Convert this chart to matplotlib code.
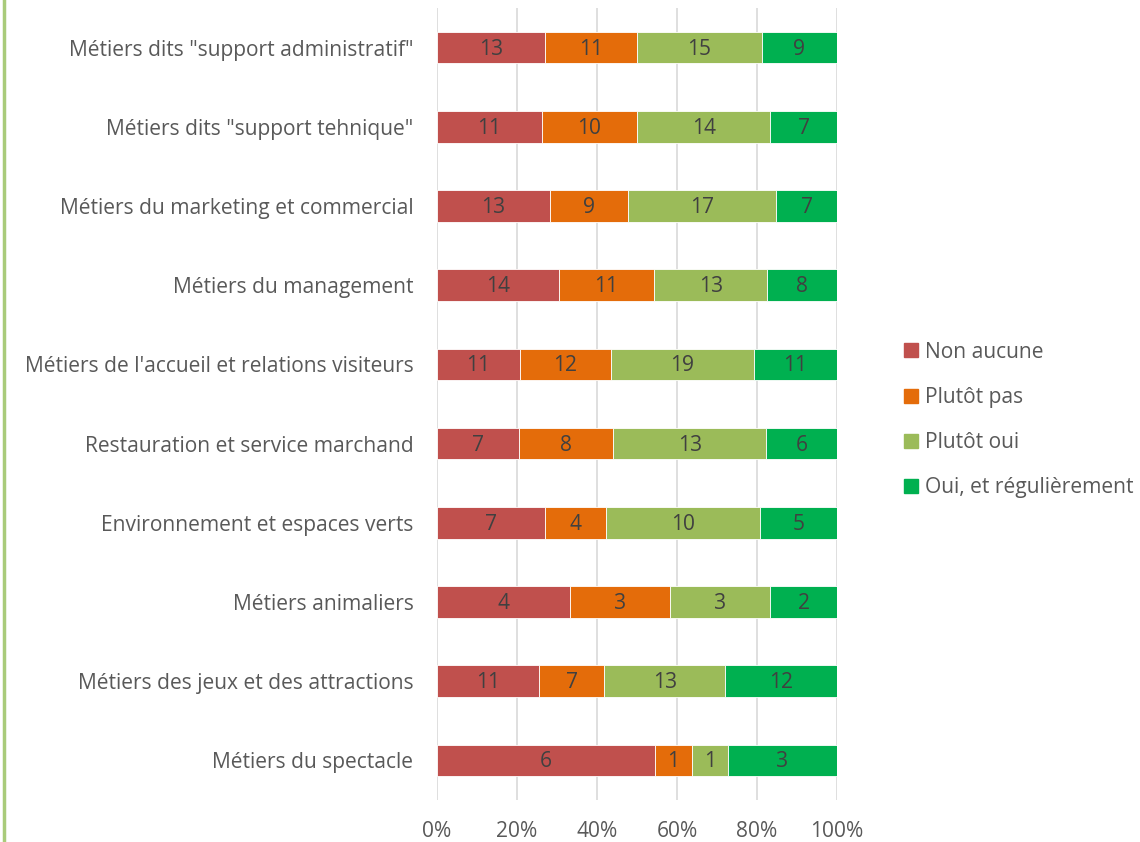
import numpy as np
import matplotlib
matplotlib.use('Agg')
import matplotlib.pyplot as plt
from matplotlib.lines import Line2D

categories = [
    'Métiers dits "support administratif"',
    'Métiers dits "support tehnique"',
    'Métiers du marketing et commercial',
    'Métiers du management',
    "Métiers de l'accueil et relations visiteurs",
    'Restauration et service marchand',
    'Environnement et espaces verts',
    'Métiers animaliers',
    'Métiers des jeux et des attractions',
    'Métiers du spectacle',
]
series_names = ['Non aucune', 'Plutôt pas', 'Plutôt oui', 'Oui, et régulièrement']
non_aucune = [13, 11, 13, 14, 11, 7, 7, 4, 11, 6]
plutot_pas = [11, 10, 9, 11, 12, 8, 4, 3, 7, 1]
plutot_oui = [15, 14, 17, 13, 19, 13, 10, 3, 13, 1]
oui_regul = [9, 7, 7, 8, 11, 6, 5, 2, 12, 3]
colors = ['#C0504D', '#E46C0A', '#9BBB59', '#00B050']

plt.rcParams['font.family'] = ['Open Sans', 'DejaVu Sans']
text_color = '#595959'
fs = 15.1

counts = np.array([non_aucune, plutot_pas, plutot_oui, oui_regul], dtype=float)
totals = counts.sum(axis=0)
shares = counts / totals * 100

fig = plt.figure(figsize=(11.4, 8.42), dpi=100)
ax = fig.add_axes([437 / 1140, 1 - 800 / 842, 400 / 1140, 792 / 842])

y = np.arange(len(categories))
left = np.zeros(len(categories))
for k, name in enumerate(series_names):
    bars = ax.barh(y, shares[k], left=left, height=0.4, color=colors[k],
                   edgecolor='white', linewidth=0.6, label=name, zorder=3)
    for i, b in enumerate(bars):
        ax.text(left[i] + shares[k][i] / 2, y[i] + 0.02, '%d' % counts[k][i],
                ha='center', va='center', fontsize=fs, color='#404040', zorder=4)
    left += shares[k]

ax.set_ylim(len(categories) - 0.5, -0.5)
ax.set_xlim(0, 100)
ax.set_xticks(np.arange(0, 101, 20))
ax.set_xticklabels(['%d%%' % v for v in range(0, 101, 20)])
ax.set_yticks(y)
ax.set_yticklabels(categories)
ax.tick_params(axis='both', length=0, labelsize=fs, labelcolor=text_color)
ax.tick_params(axis='x', pad=15)
ax.tick_params(axis='y', pad=17)
ax.grid(axis='x', color='#D9D9D9', linewidth=1.2, zorder=0)
for s in ax.spines.values():
    s.set_visible(False)

handles = [Line2D([], [], marker='s', linestyle='', markersize=10,
                  color=c) for c in colors]
fig.legend(handles, series_names, loc='center left',
           bbox_to_anchor=(888 / 1140, 1 - 420 / 842), frameon=False,
           fontsize=fs, labelcolor=text_color, handletextpad=0.05,
           handlelength=1.2, labelspacing=1.15, borderpad=0)

# thin green border at the left of the picture
fig.add_artist(Line2D([4 / 1140, 4 / 1140], [0, 1], color='#A9CB7A',
                      linewidth=2.5, transform=fig.transFigure))

fig.savefig('out.png', dpi=100)
